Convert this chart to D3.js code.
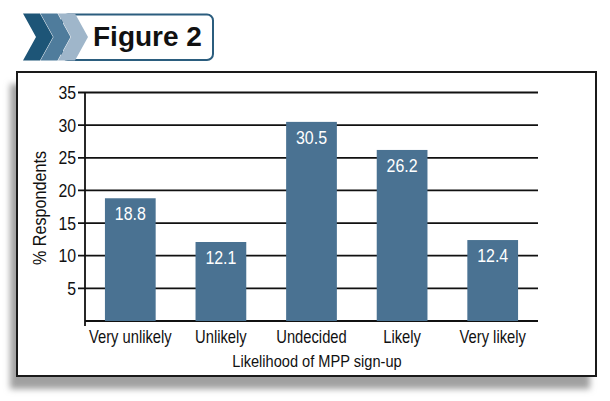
<!DOCTYPE html>
<html>
<head>
<meta charset="utf-8">
<script src="https://cdn.jsdelivr.net/npm/d3@7"></script>
<style>
  html, body { margin: 0; padding: 0; background: #fff; }
  text { font-family: "Liberation Sans", Arial, sans-serif; }
</style>
</head>
<body>
<div id="chart"></div>
<script>
// likelihood of MPP sign-up, % of respondents
var categories = ['Very unlikely', 'Unlikely', 'Undecided', 'Likely', 'Very likely'];
var values = [18.8, 12.1, 30.5, 26.2, 12.4];
var yTicks = [5, 10, 15, 20, 25, 30, 35];

var W = 610, H = 401;

// the original uses a condensed face; squeeze Liberation Sans horizontally
function narrow(tx, ty, sx, rot){
    return 'translate(' + tx + ',' + ty + ')' + (rot ? ' rotate(' + rot + ')' : '') + ' scale(' + sx + ',1)';
}

var svg = d3.select('#chart').append('svg')
    .attr('width', W)
    .attr('height', H);

var defs = svg.append('defs');
defs.append('filter').attr('id', 'blur')
    .attr('x', '-10%').attr('y', '-10%').attr('width', '120%').attr('height', '120%')
    .append('feGaussianBlur').attr('stdDeviation', 3);

// header: chevrons + rounded box
svg.append('rect')
    .attr('x', 62).attr('y', 14.5).attr('width', 151).attr('height', 45.5)
    .attr('rx', 6)
    .attr('fill', '#fff')
    .attr('stroke', '#2b5d7e')
    .attr('stroke-width', 2);

var chevColors = ['#1d5577', '#4f7c9c', '#9fb6ca'];
var chevTop = 13.5, chevBot = 60.5, chevMid = (chevTop + chevBot) / 2;
chevColors.forEach(function(c, i){
    var x0 = 23 + i * 17.5, w = 17, d = 13;
    svg.append('path')
        .attr('d', 'M' + x0 + ',' + chevTop +
                   'L' + (x0 + w) + ',' + chevTop +
                   'L' + (x0 + w + d) + ',' + chevMid +
                   'L' + (x0 + w) + ',' + chevBot +
                   'L' + x0 + ',' + chevBot +
                   'L' + (x0 + d) + ',' + chevMid + 'Z')
        .attr('fill', c);
});

svg.append('text')
    .attr('x', 93).attr('y', 46)
    .style('font-weight', 'bold')
    .style('font-size', '28px')
    .attr('fill', '#111')
    .text('Figure 2');

// frame with shadow
svg.append('rect')
    .attr('x', 10).attr('y', 84).attr('width', 580).attr('height', 305)
    .attr('fill', '#a0a0a0')
    .attr('filter', 'url(#blur)');
svg.append('rect')
    .attr('x', 17).attr('y', 72).attr('width', 579).attr('height', 304)
    .attr('fill', '#fff')
    .attr('stroke', '#1a1a1a')
    .attr('stroke-width', 2);

var x = d3.scaleBand()
    .domain(categories)
    .range([85, 538])
    .paddingInner(0.44)
    .paddingOuter(0.22);

var y = d3.scaleLinear()
    .domain([0, 35])
    .range([321, 92.5]);

// gridlines (also the left tick marks)
svg.append('g').selectAll('line')
    .data(yTicks)
    .enter().append('line')
    .attr('x1', 78).attr('x2', 538)
    .attr('y1', function(d){ return y(d); })
    .attr('y2', function(d){ return y(d); })
    .attr('stroke', '#111')
    .attr('stroke-width', 1.8);

// baseline + y axis line
svg.append('line')
    .attr('x1', 85).attr('x2', 538)
    .attr('y1', y(0)).attr('y2', y(0))
    .attr('stroke', '#111').attr('stroke-width', 1.8);
svg.append('line')
    .attr('x1', 85).attr('x2', 85)
    .attr('y1', y(35)).attr('y2', y(0) + 5)
    .attr('stroke', '#111').attr('stroke-width', 1.8);

// tick labels
svg.append('g').selectAll('text')
    .data(yTicks)
    .enter().append('text')
    .attr('transform', function(d){ return narrow(76, y(d), 0.88); })
    .attr('dy', '0.36em')
    .attr('text-anchor', 'end')
    .style('font-size', '18px')
    .attr('fill', '#111')
    .text(function(d){ return d; });

// bars
var bars = svg.append('g').selectAll('g')
    .data(values)
    .enter().append('g');

bars.append('rect')
    .attr('x', function(d, i){ return x(categories[i]); })
    .attr('y', function(d){ return y(d); })
    .attr('width', x.bandwidth())
    .attr('height', function(d){ return y(0) - y(d); })
    .attr('fill', '#4a7292');

bars.append('text')
    .attr('transform', function(d, i){
        return narrow(x(categories[i]) + x.bandwidth() / 2, y(d) + 22, 0.84);
    })
    .attr('text-anchor', 'middle')
    .style('font-size', '19px')
    .attr('fill', '#fff')
    .text(function(d){ return d.toFixed(1); });

// category labels
svg.append('g').selectAll('text')
    .data(categories)
    .enter().append('text')
    .attr('transform', function(d){ return narrow(x(d) + x.bandwidth() / 2, 343, 0.82); })
    .attr('text-anchor', 'middle')
    .style('font-size', '18px')
    .attr('fill', '#111')
    .text(function(d){ return d; });

// axis titles
svg.append('text')
    .attr('transform', narrow(317, 367, 0.86))
    .attr('text-anchor', 'middle')
    .style('font-size', '17px')
    .attr('fill', '#111')
    .text('Likelihood of MPP sign-up');

svg.append('text')
    .attr('transform', narrow(46, 208, 0.85, -90))
    .attr('text-anchor', 'middle')
    .style('font-size', '19px')
    .attr('fill', '#111')
    .text('% Respondents');
</script>
</body>
</html>
